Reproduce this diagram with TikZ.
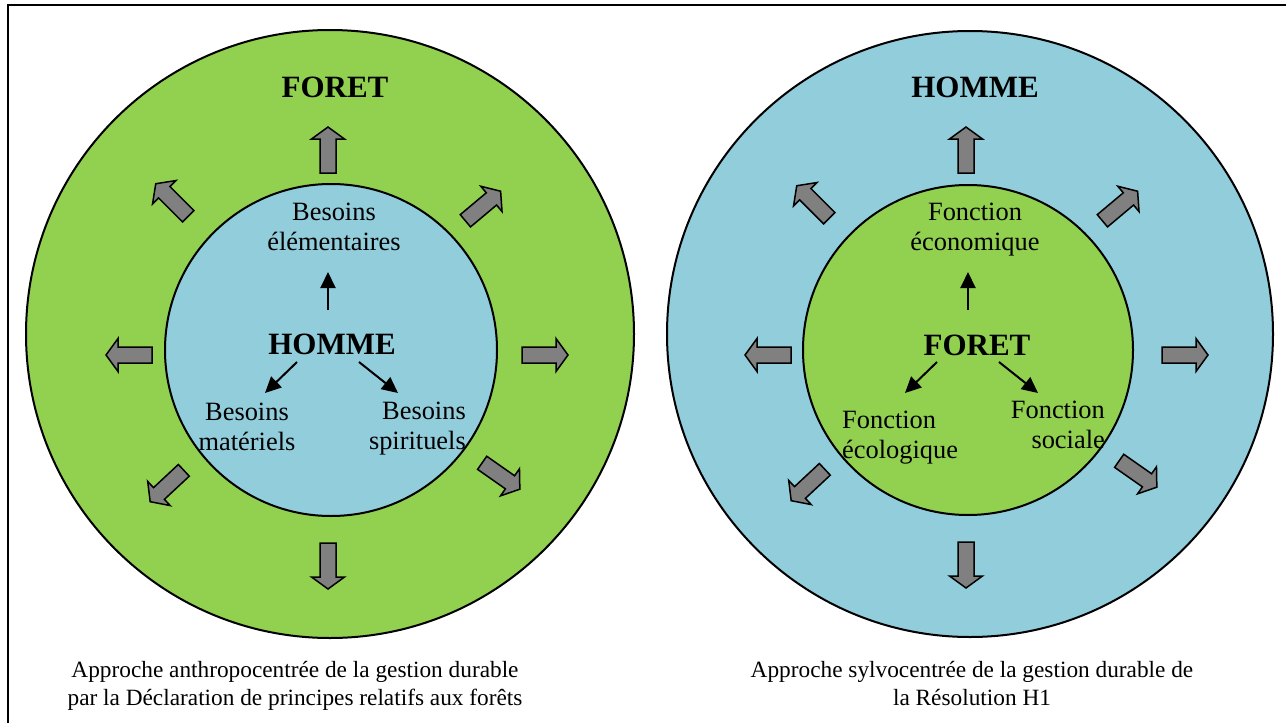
\documentclass[tikz,border=0pt]{standalone}
\usepackage{fontspec}
\setmainfont{Liberation Serif}
\usetikzlibrary{arrows.meta}
\definecolor{vert}{HTML}{92D050}
\definecolor{bleu}{HTML}{92CDDC}
\definecolor{gris}{HTML}{808080}
\begin{document}
\begin{tikzpicture}[x=1pt,y=-1pt,
  ring/.style={draw=black,line width=2pt},
  title/.style={font=\fontsize{31}{36}\selectfont\bfseries, inner sep=0pt},
  lab/.style={font=\fontsize{26.4}{30}\selectfont, inner sep=0pt},
  captxt/.style={font=\fontsize{23.3}{28}\selectfont, inner sep=0pt, align=center},
  smallarr/.style={line width=2pt,-{Triangle[length=16pt,width=15pt]}},
  bigarrow/.pic={\filldraw[fill=gris,draw=black,line width=1.5pt,line join=miter]
     (-23,-8) -- (11,-8) -- (11,-16.5) -- (23,0) -- (11,16.5) -- (11,8) -- (-23,8) -- cycle;}
]
\useasboundingbox (0,0) rectangle (1286,723);
\clip (0,0) rectangle (1286,723);
\draw[line width=1.5pt] (8,5) rectangle (1300,740);

% ---------- left diagram ----------
\draw[ring, fill=vert] (330,334) circle[radius=304pt];
\draw[ring, fill=bleu] (331,350) circle[radius=166pt];

\node[title, anchor=base] (foretL) at (335,97) {FORET};
\node[title, anchor=base] (hommeL) at (332,354) {HOMME};
\node[lab, anchor=base, align=center] (besE) at (334,250) {Besoins\\élémentaires};
\node[lab, anchor=base, align=center] (besM) at (247,450) {Besoins\\matériels};
\node[lab, anchor=base east, align=right] (besS) at (466,449) {Besoins\\spirituels};

\draw[smallarr] ([shift={(-4,-44)}]hommeL.base) -- ([shift={(-6,22)}]besE.base);
\draw[smallarr] ([shift={(-35,8)}]hommeL.base) -- ([shift={(18,-57)}]besM.base);
\draw[smallarr] ([shift={(27,8)}]hommeL.base) -- ([shift={(-68,-56)}]besS.base east);

\pic[rotate=90]   at (328,150) {bigarrow};
\pic[rotate=135]  at (172,200) {bigarrow};
\pic[rotate=40]   at (483,206) {bigarrow};
\pic[rotate=0]    at (545,355) {bigarrow};
\pic[rotate=-35]  at (501,476) {bigarrow};
\pic[rotate=-90]  at (328,566) {bigarrow};
\pic[rotate=-137] at (167,486) {bigarrow};
\pic[rotate=180]  at (129,355) {bigarrow};

\node[captxt, anchor=base] (capL) at (295,705) {Approche anthropocentrée de la gestion durable\\par la Déclaration de principes relatifs aux forêts};

% ---------- right diagram ----------
\draw[ring, fill=bleu] (970,334) circle[radius=303pt];
\draw[ring, fill=vert] (968,350) circle[radius=165pt];

\node[title, anchor=base] (hommeR) at (975,97) {HOMME};
\node[title, anchor=base] (foretR) at (977,355) {FORET};
\node[lab, anchor=base, align=center] (fonE) at (975,250) {Fonction\\économique};
\node[lab, anchor=base west, align=left] (fonEco) at (842,458) {Fonction\\écologique};
\node[lab, anchor=base east, align=right] (fonSoc) at (1105,448) {Fonction\\sociale};

\draw[smallarr] ([shift={(-9,-45)}]foretR.base) -- ([shift={(-7,22)}]fonE.base);
\draw[smallarr] ([shift={(-40,7)}]foretR.base) -- ([shift={(63,-65)}]fonEco.base west);
\draw[smallarr] ([shift={(22,7)}]foretR.base) -- ([shift={(-67,-55)}]fonSoc.base east);

\pic[rotate=90]   at (966,150) {bigarrow};
\pic[rotate=135]  at (813,202) {bigarrow};
\pic[rotate=40]   at (1120,206) {bigarrow};
\pic[rotate=0]    at (1185,355) {bigarrow};
\pic[rotate=-35]  at (1138,474) {bigarrow};
\pic[rotate=-90]  at (966,565) {bigarrow};
\pic[rotate=-137] at (808,485) {bigarrow};
\pic[rotate=180]  at (768,355) {bigarrow};

\node[captxt, anchor=base] (capR) at (972,705) {Approche sylvocentrée de la gestion durable de\\la Résolution H1};
\end{tikzpicture}
\end{document}
